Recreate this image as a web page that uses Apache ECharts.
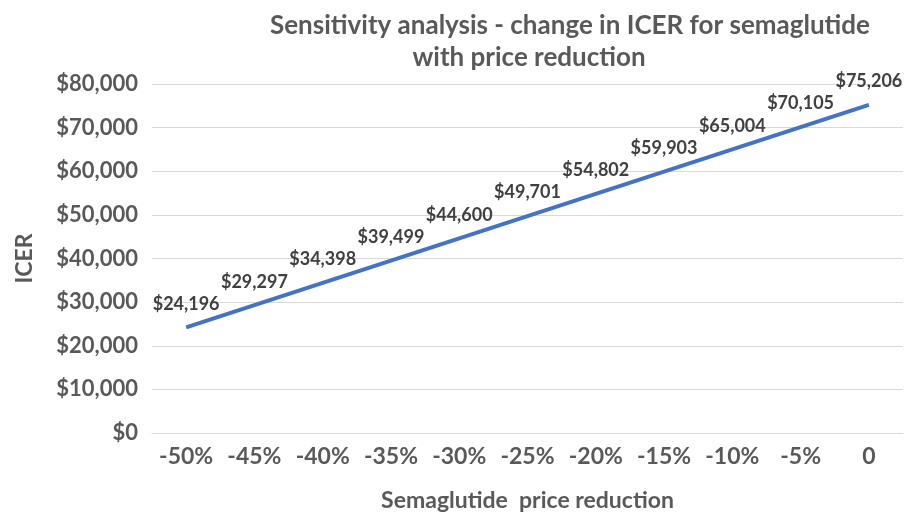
<!DOCTYPE html>
<html><head><meta charset="utf-8">
<script src="https://cdn.jsdelivr.net/npm/echarts@6/dist/echarts.min.js"></script>
<style>html,body{margin:0;padding:0;background:#fff;overflow:hidden}#c{width:100vw;height:100vh}</style>
</head><body><div id="c"></div>
<script>
const categories = ['-50%','-45%','-40%','-35%','-30%','-25%','-20%','-15%','-10%','-5%','0'];
const icer = [24196, 29297, 34398, 39499, 44600, 49701, 54802, 59903, 65004, 70105, 75206];
const titleLine1 = 'Sensitivity analysis - change in ICER for semaglutide';
const titleLine2 = 'with price reduction';

const FONT = 'Lato';
const GREY = '#595959';
const chart = echarts.init(document.getElementById('c'));
chart.setOption({
  animation: false,
  title: [
    {text: titleLine1, left: 565, top: 8, textAlign: 'center',
     textStyle: {fontFamily: FONT, fontWeight: 'bold', fontSize: 26, color: GREY}},
    {text: titleLine2, left: 524, top: 40, textAlign: 'center',
     textStyle: {fontFamily: FONT, fontWeight: 'bold', fontSize: 26, color: GREY}}
  ],
  grid: {left: 152, right: 9, top: 84, bottom: 82, containLabel: false, outerBoundsMode: 'none'},
  xAxis: {
    type: 'category', data: categories, boundaryGap: true,
    name: 'Semaglutide  price reduction', nameLocation: 'middle', nameGap: 56,
    nameTextStyle: {fontFamily: FONT, fontWeight: 'bold', fontSize: 23, color: GREY},
    axisLine: {lineStyle: {color: '#D9D9D9', width: 1}},
    axisTick: {show: false},
    axisLabel: {interval: 0, hideOverlap: false, fontFamily: FONT, fontWeight: 'bold', fontSize: 23, color: GREY, margin: 12}
  },
  yAxis: {
    type: 'value', min: 0, max: 80000, interval: 10000,
    name: 'ICER', nameLocation: 'middle', nameGap: 116,
    nameTextStyle: {fontFamily: FONT, fontWeight: 'bold', fontSize: 23, color: GREY},
    axisLine: {show: false}, axisTick: {show: false},
    splitLine: {lineStyle: {color: '#D9D9D9', width: 1}},
    axisLabel: {fontFamily: FONT, fontWeight: 'bold', fontSize: 22, color: GREY, margin: 14,
      formatter: v => '$' + v.toLocaleString('en-US')}
  },
  series: [{
    type: 'line', data: icer, showSymbol: true, symbol: 'circle', symbolSize: 1,
    itemStyle: {color: 'rgba(68,114,196,0)', borderWidth: 0},
    lineStyle: {color: '#4472C4', width: 4},
    label: {show: true, position: 'top', distance: 14,
      fontFamily: FONT, fontWeight: 'bold', fontSize: 18, color: '#404040',
      formatter: p => '$' + p.value.toLocaleString('en-US')},
    labelLayout: {hideOverlap: false}
  }]
});
</script></body></html>
